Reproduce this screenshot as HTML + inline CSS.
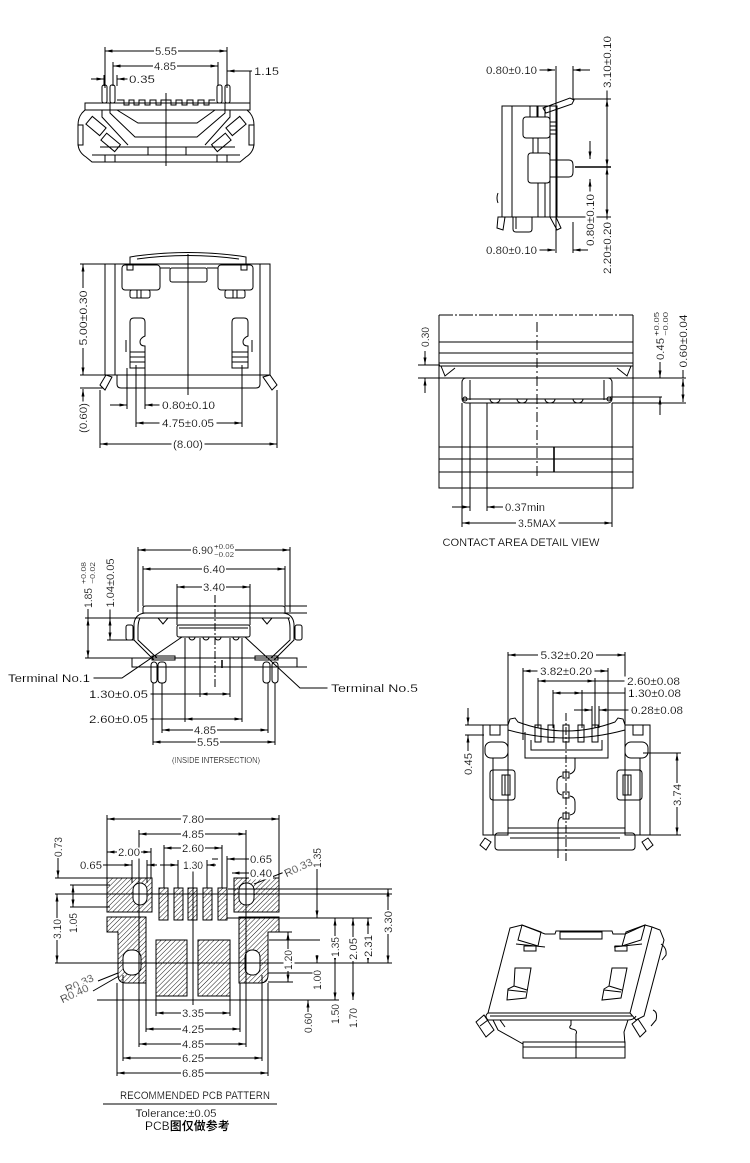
<!DOCTYPE html>
<html><head><meta charset="utf-8">
<style>
html,body{margin:0;padding:0;background:#fff;}
svg{display:block;}
svg text{font-family:"Liberation Sans","Noto Sans CJK SC",sans-serif;font-size:11px;fill:#000;stroke:none;filter:url(#bg);}
text.m{text-anchor:middle;}
text.e{text-anchor:end;}
text.s{font-size:7px;}
</style></head>
<body>
<svg width="750" height="1163" viewBox="0 0 750 1163" xmlns="http://www.w3.org/2000/svg">
<defs>
<filter id="bg" x="-0.04" y="0.05" width="1.08" height="0.9"><feFlood flood-color="#fff"/><feComposite in="SourceGraphic" operator="over"/></filter>
<marker id="a" viewBox="0 0 10 4" refX="10" refY="2" markerWidth="9" markerHeight="3" orient="auto-start-reverse" markerUnits="userSpaceOnUse"><path d="M0,0L10,2L0,4Z" fill="#000" stroke="none"/></marker>
<pattern id="h" width="3.4" height="3.4" patternUnits="userSpaceOnUse" patternTransform="rotate(45)"><line x1="0" y1="0" x2="0" y2="3.4" stroke="#000" stroke-width="0.9"/></pattern>
</defs>
<rect width="750" height="1163" fill="#fff"/>
<g stroke="#000" stroke-width="1" fill="none">

<!-- ============ VIEW 1 (front top-left) ============ -->
<line x1="105" y1="47" x2="105" y2="88"/>
<line x1="227" y1="47" x2="227" y2="88"/>
<line x1="105" y1="51" x2="227" y2="51" marker-start="url(#a)" marker-end="url(#a)"/>
<line x1="113" y1="62" x2="113" y2="86"/>
<line x1="218" y1="62" x2="218" y2="86"/>
<line x1="113" y1="66" x2="218" y2="66" marker-start="url(#a)" marker-end="url(#a)"/>
<line x1="104" y1="75" x2="104" y2="86"/>
<line x1="117" y1="75" x2="117" y2="86"/>
<line x1="91" y1="79" x2="104" y2="79" marker-end="url(#a)"/>
<line x1="117" y1="79" x2="128" y2="79" marker-start="url(#a)"/>
<line x1="227" y1="71" x2="252" y2="71" marker-start="url(#a)"/>
<line x1="250" y1="71" x2="250" y2="104"/>
<!-- body -->
<rect x="102" y="85" width="5" height="18" rx="2"/>
<rect x="110" y="85" width="5" height="18" rx="2"/>
<rect x="217" y="85" width="5" height="18" rx="2"/>
<rect x="225" y="85" width="5" height="18" rx="2"/>
<rect x="85" y="103" width="165" height="7"/>
<polyline points="117,100 124,100 124,105 129,105 129,100 134,100 134,105 139,105 139,100 145,100 145,105 150,105 150,100 156,100 156,105 161,105 161,100 171,100 171,105 176,105 176,100 182,100 182,105 187,105 187,100 193,100 193,105 198,105 198,100 204,100 204,105 209,105 209,100 215,100"/>
<polyline points="117,110 138,123 197,123 215,110"/>
<polyline points="110,103 110,113 135,137 197,137 225,113 225,103"/>
<polyline points="102,110 102,117 128,145"/>
<polyline points="230,110 230,117 205,145"/>
<path d="M85,110 L82,113 Q78,118 78,125 L78,143 Q78,152 86,157 L92,162 L240,162 L246,157 Q254,152 254,143 L254,125 Q254,118 250,113 L247,110"/>
<rect x="78" y="125" width="5" height="20"/>
<rect x="249" y="125" width="5" height="20"/>
<rect x="87" y="121" width="18" height="10" transform="rotate(40 96 126)"/>
<rect x="102" y="138" width="18" height="9" transform="rotate(40 111 142)"/>
<rect x="227" y="121" width="18" height="10" transform="rotate(-40 236 126)"/>
<rect x="212" y="138" width="18" height="9" transform="rotate(-40 221 142)"/>
<line x1="100" y1="147" x2="235" y2="147"/>
<line x1="92" y1="155" x2="240" y2="155"/>
<rect x="148" y="147" width="38" height="8"/>
<rect x="105" y="155" width="10" height="7"/>
<rect x="217" y="155" width="10" height="7"/>
<line x1="166" y1="93" x2="166" y2="166"/>

<!-- ============ VIEW 2 (side top-right) ============ -->
<line x1="538" y1="70" x2="555" y2="70" marker-end="url(#a)"/>
<line x1="556" y1="66" x2="556" y2="253"/>
<line x1="573" y1="70" x2="590" y2="70" marker-start="url(#a)"/>
<line x1="573" y1="66" x2="573" y2="99"/>
<line x1="573" y1="99" x2="611" y2="99"/>
<line x1="557" y1="217" x2="611" y2="217"/>
<line x1="575" y1="167" x2="611" y2="167" stroke-width="1.6"/>
<line x1="607" y1="88" x2="607" y2="99"/>
<line x1="607" y1="99" x2="607" y2="167" marker-start="url(#a)" marker-end="url(#a)"/>
<line x1="607" y1="167" x2="607" y2="217" marker-start="url(#a)" marker-end="url(#a)"/>
<line x1="607" y1="217" x2="607" y2="222"/>
<line x1="590" y1="141" x2="590" y2="159" marker-end="url(#a)"/>
<line x1="590" y1="193" x2="590" y2="179" marker-end="url(#a)"/>
<line x1="538" y1="250" x2="555" y2="250" marker-end="url(#a)"/>
<line x1="573" y1="250" x2="588" y2="250" marker-start="url(#a)"/>
<line x1="573" y1="222" x2="573" y2="253"/>
<!-- body -->
<rect x="502" y="106" width="55" height="111"/>
<line x1="512" y1="106" x2="512" y2="217"/>
<line x1="550" y1="106" x2="550" y2="217"/>
<polygon points="543,108 570,98 574,100 572,104 546,113"/>
<rect x="530" y="106" width="7" height="11"/>
<rect x="538" y="106" width="7" height="11"/>
<rect x="523" y="117" width="27" height="21" rx="3"/>
<line x1="550" y1="122" x2="557" y2="122"/><line x1="550" y1="126" x2="557" y2="126"/><line x1="550" y1="130" x2="557" y2="130"/><line x1="550" y1="134" x2="557" y2="134"/>
<line x1="533" y1="138" x2="533" y2="153"/><line x1="538" y1="138" x2="538" y2="153"/>
<rect x="528" y="153" width="22" height="30" rx="3"/>
<path d="M550,160 L569,160 Q573,160 573,165 L573,172 Q573,177 569,177 L550,177"/>
<line x1="557" y1="160" x2="557" y2="177"/>
<line x1="538" y1="183" x2="538" y2="217"/><line x1="545" y1="183" x2="545" y2="217"/>
<path d="M498,193 Q496,198 498,203"/>
<polygon points="498,217 505,217 503,230 497,228"/>
<path d="M513,217 L513,229 Q513,232 516,232 L529,232 Q532,232 532,229 L532,217"/>
<line x1="516" y1="217" x2="516" y2="229"/>
<polygon points="550,217 556,217 561,228 557,230"/>

<!-- ============ VIEW 3 (top view left) ============ -->
<rect x="105" y="264" width="165" height="111"/>
<line x1="115" y1="264" x2="115" y2="375"/>
<line x1="260" y1="264" x2="260" y2="375"/>
<path d="M130,264 L130,257 L136,256 Q188,249 240,256 L246,257 L246,264"/>
<path d="M137,259 Q188,252 239,259"/>
<rect x="170" y="268" width="37" height="14" rx="2"/>
<line x1="160" y1="268" x2="170" y2="268"/><line x1="207" y1="268" x2="218" y2="268"/>
<rect x="122" y="265" width="38" height="25" rx="3"/>
<rect x="127" y="265" width="6" height="5"/>
<rect x="130" y="290" width="20" height="8" rx="2"/>
<line x1="137" y1="290" x2="137" y2="298"/><line x1="141" y1="290" x2="141" y2="298"/>
<rect x="218" y="265" width="35" height="25" rx="3"/>
<rect x="241" y="265" width="6" height="5"/>
<rect x="225" y="290" width="20" height="8" rx="2"/>
<line x1="233" y1="290" x2="233" y2="298"/><line x1="237" y1="290" x2="237" y2="298"/>
<path d="M130,368 L130,322 Q130,318 134,318 L141,318 Q145,318 145,322 L145,336 Q140,338 140,342 Q140,346 145,346 L145,368 Z"/>
<line x1="126" y1="340" x2="126" y2="352"/>
<line x1="130" y1="352" x2="145" y2="352"/><line x1="130" y1="357" x2="145" y2="357"/><line x1="130" y1="362" x2="145" y2="362"/>
<path d="M232,368 L232,322 Q232,318 236,318 L244,318 Q248,318 248,322 L248,336 Q243,338 243,342 Q243,346 248,346 L248,368 Z"/>
<line x1="252" y1="340" x2="252" y2="352"/>
<line x1="232" y1="352" x2="248" y2="352"/><line x1="232" y1="357" x2="248" y2="357"/><line x1="232" y1="362" x2="248" y2="362"/>
<line x1="188" y1="254" x2="188" y2="395"/>
<path d="M117,375 L117,384 Q117,388 121,388 L256,388 Q260,388 260,384 L260,375"/>
<polygon points="100,385 106,375 112,377 105,390"/>
<polygon points="263,377 270,375 277,385 272,390"/>
<!-- dims -->
<line x1="80" y1="264" x2="105" y2="264"/>
<line x1="80" y1="375" x2="105" y2="375"/>
<line x1="83" y1="264" x2="83" y2="375" marker-start="url(#a)" marker-end="url(#a)"/>
<line x1="80" y1="388" x2="103" y2="388"/>
<line x1="83" y1="403" x2="83" y2="389" marker-end="url(#a)"/>
<line x1="127" y1="368" x2="127" y2="409"/>
<line x1="145" y1="368" x2="145" y2="409"/>
<line x1="110" y1="405" x2="127" y2="405" marker-end="url(#a)"/>
<line x1="145" y1="405" x2="161" y2="405" marker-start="url(#a)"/>
<line x1="136" y1="365" x2="136" y2="427"/>
<line x1="242" y1="365" x2="242" y2="427"/>
<line x1="136" y1="423" x2="242" y2="423" marker-start="url(#a)" marker-end="url(#a)"/>
<line x1="100" y1="390" x2="100" y2="448"/>
<line x1="277" y1="390" x2="277" y2="448"/>
<line x1="100" y1="444" x2="277" y2="444" marker-start="url(#a)" marker-end="url(#a)"/>

<!-- ============ VIEW 4 (contact area detail) ============ -->
<path d="M439,315 L439,488 L633,488 L633,315"/>
<line x1="439" y1="315" x2="633" y2="315" stroke-dasharray="14,2,2,2"/>
<line x1="439" y1="342" x2="633" y2="342"/>
<line x1="439" y1="353" x2="633" y2="353"/>
<line x1="439" y1="363" x2="633" y2="363"/>
<line x1="439" y1="366" x2="633" y2="366"/>
<line x1="439" y1="378" x2="633" y2="378"/>
<polyline points="441,366 445,376 455,368"/>
<polyline points="631,366 627,376 617,368"/>
<rect x="462" y="378" width="150" height="25" rx="4"/>
<line x1="470" y1="380" x2="470" y2="400"/>
<line x1="604" y1="380" x2="604" y2="400"/>
<line x1="462" y1="399" x2="612" y2="399"/>
<circle cx="465" cy="399" r="2"/>
<circle cx="609" cy="399" r="2"/>
<path d="M490,399 A5,4 0 0 0 500,399"/>
<path d="M517,399 A5,4 0 0 0 527,399"/>
<path d="M545,399 A5,4 0 0 0 555,399"/>
<path d="M573,399 A5,4 0 0 0 583,399"/>
<line x1="537" y1="322" x2="537" y2="476" stroke-dasharray="10,3,2,3"/>
<line x1="439" y1="447" x2="633" y2="447"/>
<line x1="439" y1="459" x2="633" y2="459"/>
<line x1="439" y1="472" x2="633" y2="472"/>
<line x1="554" y1="447" x2="554" y2="472" stroke-width="1.6"/>
<!-- dims -->
<line x1="418" y1="365" x2="440" y2="365"/>
<line x1="418" y1="378" x2="440" y2="378"/>
<line x1="425" y1="351" x2="425" y2="365" marker-end="url(#a)"/>
<line x1="425" y1="393" x2="425" y2="378" marker-end="url(#a)"/>
<line x1="607" y1="378" x2="686" y2="378"/>
<line x1="610" y1="397" x2="662" y2="397"/>
<line x1="612" y1="403" x2="686" y2="403"/>
<line x1="660" y1="362" x2="660" y2="378" marker-end="url(#a)"/>
<line x1="660" y1="415" x2="660" y2="397" marker-end="url(#a)"/>
<line x1="683" y1="369" x2="683" y2="378"/>
<line x1="683" y1="379" x2="683" y2="402" marker-start="url(#a)" marker-end="url(#a)"/>
<line x1="462" y1="403" x2="462" y2="527"/>
<line x1="470" y1="403" x2="470" y2="511"/>
<line x1="487" y1="403" x2="487" y2="511"/>
<line x1="612" y1="403" x2="612" y2="527"/>
<line x1="452" y1="507" x2="470" y2="507" marker-end="url(#a)"/>
<line x1="487" y1="507" x2="504" y2="507" marker-start="url(#a)"/>
<line x1="462" y1="523" x2="612" y2="523" marker-start="url(#a)" marker-end="url(#a)"/>

<!-- ============ VIEW 5 (front with terminals) ============ -->
<line x1="138" y1="547" x2="138" y2="612"/>
<line x1="290" y1="547" x2="290" y2="612"/>
<line x1="138" y1="550" x2="290" y2="550" marker-start="url(#a)" marker-end="url(#a)"/>
<line x1="143" y1="566" x2="143" y2="606"/>
<line x1="285" y1="566" x2="285" y2="606"/>
<line x1="143" y1="569" x2="285" y2="569" marker-start="url(#a)" marker-end="url(#a)"/>
<line x1="177" y1="584" x2="177" y2="625"/>
<line x1="250" y1="584" x2="250" y2="625"/>
<line x1="177" y1="587" x2="250" y2="587" marker-start="url(#a)" marker-end="url(#a)"/>
<!-- body -->
<path d="M143,613 L143,608 Q143,606 146,606 L282,606 Q285,606 285,608 L285,613"/>
<line x1="285" y1="606" x2="307" y2="606"/>
<line x1="143" y1="613" x2="307" y2="613"/>
<line x1="138" y1="618" x2="290" y2="618"/>
<path d="M158,618 L163,624 L168,618"/>
<path d="M262,618 L267,624 L272,618"/>
<path d="M145,613 Q135,614 134,624 L134,640 L154,660"/>
<path d="M140,618 Q138,622 138,628 L138,640 L157,658"/>
<path d="M283,613 Q293,614 294,624 L294,640 L274,660"/>
<path d="M288,618 Q290,622 290,628 L290,640 L271,658"/>
<rect x="126" y="625" width="7" height="15" rx="2"/>
<rect x="295" y="625" width="7" height="15" rx="2"/>
<rect x="177" y="625" width="73" height="12" rx="2"/>
<line x1="179" y1="628" x2="248" y2="628"/>
<path d="M189,637 A3,3 0 0 0 195,637"/>
<path d="M203,637 A3,3 0 0 0 209,637"/>
<path d="M215,637 A3,3 0 0 0 221,637"/>
<path d="M233,637 A3,3 0 0 0 239,637"/>
<rect x="132" y="658" width="165" height="9"/>
<line x1="297" y1="667" x2="307" y2="667"/>
<rect x="152" y="656" width="23" height="4"/>
<rect x="255" y="656" width="23" height="4"/>
<line x1="222" y1="660" x2="222" y2="668" stroke-width="1.5"/>
<rect x="151" y="662" width="6" height="21" rx="3"/>
<rect x="158" y="662" width="8" height="21" rx="3"/>
<rect x="263" y="662" width="7" height="21" rx="3"/>
<rect x="272" y="662" width="6" height="21" rx="3"/>
<line x1="215" y1="595" x2="215" y2="688" stroke-dasharray="8,2,2,2"/>
<!-- terminal leaders -->
<polyline points="90,678 122,678 182,637"/>
<polyline points="330,688 300,688 245,637"/>
<!-- left vertical dims -->
<line x1="85" y1="618" x2="140" y2="618"/>
<line x1="85" y1="658" x2="153" y2="658"/>
<line x1="88" y1="607" x2="88" y2="618"/>
<line x1="88" y1="618" x2="88" y2="658" marker-start="url(#a)" marker-end="url(#a)"/>
<line x1="107" y1="640" x2="134" y2="640"/>
<line x1="110" y1="608" x2="110" y2="618"/>
<line x1="110" y1="618" x2="110" y2="640" marker-start="url(#a)" marker-end="url(#a)"/>
<!-- bottom dims -->
<line x1="185" y1="638" x2="185" y2="722"/>
<line x1="200" y1="638" x2="200" y2="697"/>
<line x1="230" y1="638" x2="230" y2="697"/>
<line x1="242" y1="638" x2="242" y2="722"/>
<line x1="162" y1="683" x2="162" y2="733"/>
<line x1="268" y1="683" x2="268" y2="733"/>
<line x1="153" y1="683" x2="153" y2="745"/>
<line x1="275" y1="683" x2="275" y2="745"/>
<line x1="148" y1="694" x2="200" y2="694"/>
<line x1="200" y1="694" x2="230" y2="694" marker-start="url(#a)" marker-end="url(#a)"/>
<line x1="148" y1="719" x2="185" y2="719"/>
<line x1="185" y1="719" x2="242" y2="719" marker-start="url(#a)" marker-end="url(#a)"/>
<line x1="162" y1="730" x2="268" y2="730" marker-start="url(#a)" marker-end="url(#a)"/>
<line x1="153" y1="742" x2="275" y2="742" marker-start="url(#a)" marker-end="url(#a)"/>

<!-- ============ VIEW 6 (right middle) ============ -->
<line x1="508" y1="652" x2="508" y2="728"/>
<line x1="625" y1="652" x2="625" y2="728"/>
<line x1="508" y1="655" x2="625" y2="655" marker-start="url(#a)" marker-end="url(#a)"/>
<line x1="523" y1="668" x2="523" y2="740"/>
<line x1="608" y1="668" x2="608" y2="740"/>
<line x1="523" y1="671" x2="608" y2="671" marker-start="url(#a)" marker-end="url(#a)"/>
<line x1="538" y1="678" x2="538" y2="728"/>
<line x1="595" y1="678" x2="595" y2="728"/>
<line x1="538" y1="681" x2="595" y2="681" marker-start="url(#a)" marker-end="url(#a)"/>
<line x1="595" y1="681" x2="626" y2="681"/>
<line x1="553" y1="690" x2="553" y2="728"/>
<line x1="582" y1="690" x2="582" y2="728"/>
<line x1="553" y1="693" x2="582" y2="693" marker-start="url(#a)" marker-end="url(#a)"/>
<line x1="582" y1="693" x2="627" y2="693"/>
<line x1="592" y1="706" x2="592" y2="728"/>
<line x1="599" y1="706" x2="599" y2="728"/>
<line x1="574" y1="710" x2="592" y2="710" marker-end="url(#a)"/>
<line x1="630" y1="710" x2="599" y2="710" marker-end="url(#a)"/>
<!-- body -->
<rect x="483" y="725" width="25" height="110"/>
<rect x="625" y="725" width="25" height="110"/>
<rect x="490" y="725" width="10" height="10"/>
<rect x="633" y="725" width="10" height="10"/>
<path d="M508,725 L510,719 L515,718 L518,722 Q566,740 615,722 L618,718 L623,719 L625,725"/>
<path d="M508,730 Q566,746 625,730"/>
<rect x="535" y="725" width="6" height="17"/>
<rect x="548" y="725" width="6" height="17"/>
<rect x="563" y="725" width="6" height="17"/>
<rect x="578" y="725" width="6" height="17"/>
<rect x="592" y="725" width="6" height="17"/>
<path d="M525,732 L525,758 L608,758 L608,732"/>
<path d="M531,740 L531,750 L602,750 L602,740"/>
<rect x="485" y="742" width="23" height="16" rx="6"/>
<rect x="625" y="742" width="23" height="16" rx="6"/>
<line x1="493" y1="758" x2="493" y2="835"/>
<line x1="640" y1="758" x2="640" y2="835"/>
<rect x="490" y="770" width="25" height="30" rx="3"/>
<rect x="502" y="775" width="8" height="20"/>
<line x1="505" y1="775" x2="505" y2="795"/>
<rect x="617" y="770" width="25" height="30" rx="3"/>
<rect x="623" y="775" width="8" height="20"/>
<line x1="628" y1="775" x2="628" y2="795"/>
<line x1="508" y1="828" x2="625" y2="828"/>
<rect x="495" y="833" width="140" height="17" rx="3"/>
<line x1="510" y1="838" x2="620" y2="838"/>
<polygon points="480,845 485,838 491,842 486,850"/>
<polygon points="642,842 648,838 653,845 647,850"/>
<line x1="566" y1="713" x2="566" y2="862" stroke-dasharray="8,2,2,2"/>
<path d="M575,758 L575,768 Q575,772 570,774"/>
<path d="M562,776 Q557,777 557,782 L557,789 Q557,794 562,795"/>
<path d="M570,796 Q575,797 575,802 L575,810 Q575,814 570,815"/>
<path d="M562,817 Q558,818 558,824 L558,858"/>
<rect x="563" y="772" width="6" height="6"/>
<rect x="563" y="792" width="6" height="6"/>
<rect x="563" y="813" width="6" height="6"/>
<!-- side dims -->
<line x1="465" y1="725" x2="484" y2="725"/>
<line x1="465" y1="735" x2="484" y2="735"/>
<line x1="468" y1="708" x2="468" y2="725" marker-end="url(#a)"/>
<line x1="468" y1="751" x2="468" y2="735" marker-end="url(#a)"/>
<line x1="643" y1="753" x2="681" y2="753"/>
<line x1="650" y1="835" x2="681" y2="835"/>
<line x1="677" y1="753" x2="677" y2="835" marker-start="url(#a)" marker-end="url(#a)"/>

<!-- ============ VIEW 7 (PCB pattern) ============ -->
<g fill="url(#h)">
<rect x="107" y="878" width="45" height="34"/>
<rect x="234" y="878" width="45" height="34"/>
<rect x="159" y="888" width="9" height="32"/>
<rect x="174" y="888" width="9" height="32"/>
<rect x="188" y="888" width="9" height="32"/>
<rect x="203" y="888" width="9" height="32"/>
<rect x="218" y="888" width="9" height="32"/>
<path d="M107,917 L146,917 L146,983 L126,983 Q118,983 118,975 L118,932 L107,932 Z"/>
<path d="M239,917 L279,917 L279,932 L268,932 L268,975 Q268,983 260,983 L239,983 Z"/>
<rect x="156" y="940" width="31" height="56"/>
<rect x="198" y="940" width="32" height="56"/>
</g>
<g fill="#fff">
<rect x="133" y="883" width="14" height="22" rx="7"/>
<rect x="239" y="883" width="15" height="22" rx="7"/>
<rect x="123" y="950" width="18" height="25" rx="8"/>
<rect x="245" y="950" width="15" height="25" rx="7"/>
</g>
<line x1="193" y1="868" x2="193" y2="1005"/>
<line x1="55" y1="894" x2="392" y2="894"/>
<line x1="55" y1="963" x2="392" y2="963"/>
<line x1="55" y1="878" x2="110" y2="878"/>
<line x1="70" y1="885" x2="110" y2="885"/>
<line x1="70" y1="907" x2="110" y2="907"/>
<line x1="228" y1="889" x2="392" y2="889"/>
<line x1="227" y1="918" x2="372" y2="918"/>
<line x1="268" y1="932" x2="292" y2="932"/>
<line x1="269" y1="940" x2="320" y2="940"/>
<line x1="268" y1="973" x2="320" y2="973"/>
<line x1="268" y1="982" x2="293" y2="982"/>
<line x1="97" y1="1000" x2="339" y2="1000"/>
<line x1="107" y1="815" x2="107" y2="878"/>
<line x1="279" y1="815" x2="279" y2="878"/>
<line x1="107" y1="819" x2="279" y2="819" marker-start="url(#a)" marker-end="url(#a)"/>
<line x1="139" y1="830" x2="139" y2="1047"/>
<line x1="246" y1="830" x2="246" y2="1047"/>
<line x1="139" y1="834" x2="246" y2="834" marker-start="url(#a)" marker-end="url(#a)"/>
<line x1="164" y1="845" x2="164" y2="888"/>
<line x1="222" y1="845" x2="222" y2="888"/>
<line x1="164" y1="848" x2="222" y2="848" marker-start="url(#a)" marker-end="url(#a)"/>
<line x1="151" y1="848" x2="151" y2="878"/>
<line x1="107" y1="852" x2="151" y2="852" marker-start="url(#a)" marker-end="url(#a)"/>
<line x1="132" y1="860" x2="132" y2="883"/>
<line x1="147" y1="860" x2="147" y2="883"/>
<line x1="102" y1="865" x2="132" y2="865" marker-end="url(#a)"/>
<line x1="147" y1="865" x2="157" y2="865" marker-start="url(#a)"/>
<line x1="178" y1="860" x2="178" y2="888"/>
<line x1="207" y1="860" x2="207" y2="888"/>
<line x1="160" y1="865" x2="178" y2="865" marker-end="url(#a)"/>
<line x1="207" y1="865" x2="216" y2="865" marker-start="url(#a)"/>
<line x1="227" y1="856" x2="227" y2="888"/>
<line x1="212" y1="859" x2="218" y2="859"/>
<line x1="227" y1="859" x2="249" y2="859" marker-start="url(#a)"/>
<line x1="232" y1="873" x2="249" y2="873" marker-start="url(#a)"/>
<line x1="254" y1="884" x2="287" y2="871"/>
<line x1="58" y1="858" x2="58" y2="878" marker-end="url(#a)"/>
<line x1="57" y1="894" x2="57" y2="963" marker-start="url(#a)" marker-end="url(#a)"/>
<line x1="73" y1="885" x2="73" y2="907" marker-start="url(#a)" marker-end="url(#a)"/>
<line x1="317" y1="866" x2="317" y2="889"/>
<line x1="317" y1="889" x2="317" y2="918" marker-end="url(#a)"/>
<line x1="388" y1="889" x2="388" y2="963" marker-start="url(#a)" marker-end="url(#a)"/>
<line x1="368" y1="918" x2="368" y2="963" marker-start="url(#a)" marker-end="url(#a)"/>
<line x1="353" y1="918" x2="353" y2="1000" marker-start="url(#a)" marker-end="url(#a)"/>
<line x1="335" y1="918" x2="335" y2="963" marker-start="url(#a)" marker-end="url(#a)"/>
<line x1="335" y1="963" x2="335" y2="1000" marker-end="url(#a)"/>
<line x1="288" y1="932" x2="288" y2="982" marker-start="url(#a)" marker-end="url(#a)"/>
<line x1="317" y1="955" x2="317" y2="963" marker-end="url(#a)"/>
<line x1="308" y1="1013" x2="308" y2="1000" marker-end="url(#a)"/>
<line x1="98" y1="981" x2="118" y2="973"/>
<line x1="93" y1="991" x2="119" y2="976"/>
<line x1="117" y1="983" x2="117" y2="1076"/>
<line x1="268" y1="983" x2="268" y2="1076"/>
<line x1="123" y1="975" x2="123" y2="1061"/>
<line x1="262" y1="975" x2="262" y2="1061"/>
<line x1="146" y1="983" x2="146" y2="1032"/>
<line x1="240" y1="983" x2="240" y2="1032"/>
<line x1="156" y1="996" x2="156" y2="1016"/>
<line x1="230" y1="996" x2="230" y2="1016"/>
<line x1="156" y1="1013" x2="230" y2="1013" marker-start="url(#a)" marker-end="url(#a)"/>
<line x1="146" y1="1029" x2="240" y2="1029" marker-start="url(#a)" marker-end="url(#a)"/>
<line x1="139" y1="1044" x2="246" y2="1044" marker-start="url(#a)" marker-end="url(#a)"/>
<line x1="123" y1="1058" x2="262" y2="1058" marker-start="url(#a)" marker-end="url(#a)"/>
<line x1="117" y1="1073" x2="268" y2="1073" marker-start="url(#a)" marker-end="url(#a)"/>
<line x1="103" y1="1104" x2="277" y2="1104"/>

<!-- ============ VIEW 8 (isometric) ============ -->
<path d="M510,928 L522,925 L545,934 L555,934 L556,931 L612,931 L613,934 L625,934 L645,925 L652,927 L630,1013 L488,1013 Z"/>
<path d="M652,927 L660,930 L664,940 L644,1016 L636,1020 L630,1013"/>
<path d="M488,1013 Q484,1016 488,1020 L628,1020 Q634,1020 636,1016"/>
<line x1="490" y1="1016" x2="632" y2="1016"/>
<rect x="560" y="932" width="42" height="7"/>
<polygon points="522,925 541,932 538,946 518,940"/>
<polygon points="645,925 626,932 622,946 641,940"/>
<line x1="516" y1="944" x2="545" y2="947"/>
<line x1="614" y1="947" x2="642" y2="944"/>
<rect x="524" y="946" width="12" height="5"/>
<rect x="615" y="946" width="12" height="5"/>
<polygon points="515,968 531,968 526,998 507,1000 508,989 514,986"/>
<line x1="514" y1="986" x2="527" y2="990"/>
<line x1="508" y1="990" x2="526" y2="992"/>
<polygon points="612,968 627,968 621,998 602,1000 604,989 609,986"/>
<line x1="609" y1="986" x2="622" y2="990"/>
<line x1="604" y1="990" x2="621" y2="992"/>
<polyline points="493,1020 498,1030 523,1044"/>
<polyline points="500,1020 505,1027"/>
<polyline points="628,1020 624,1032 625,1044"/>
<rect x="523" y="1042" width="102" height="16"/>
<line x1="523" y1="1047" x2="625" y2="1047"/>
<path d="M571,1020 L571,1025 Q568,1028 572,1029 Q578,1030 576,1034 L576,1058"/>
<polygon points="476,1022 484,1015 494,1030 486,1037"/>
<line x1="480" y1="1026" x2="488" y2="1020"/>
<polygon points="632,1024 638,1019 646,1031 640,1037"/>
<path d="M661,944 Q667,948 666,955 L662,960"/>
<path d="M653,1010 Q658,1012 656,1020 L651,1026"/>
</g>

<!-- ================= TEXT ================= -->
<text x="166" y="55" class="m" textLength="22" lengthAdjust="spacingAndGlyphs">5.55</text>
<text x="165" y="70" class="m" textLength="22" lengthAdjust="spacingAndGlyphs">4.85</text>
<text x="129" y="83" textLength="26" lengthAdjust="spacingAndGlyphs">0.35</text>
<text x="254" y="75" textLength="25" lengthAdjust="spacingAndGlyphs">1.15</text>
<text x="486" y="74" textLength="51" lengthAdjust="spacingAndGlyphs">0.80±0.10</text>
<text x="486" y="254" textLength="51" lengthAdjust="spacingAndGlyphs">0.80±0.10</text>
<text transform="translate(611,62) rotate(-90)" class="m" textLength="52" lengthAdjust="spacingAndGlyphs">3.10±0.10</text>
<text transform="translate(611,248) rotate(-90)" class="m" textLength="52" lengthAdjust="spacingAndGlyphs">2.20±0.20</text>
<text transform="translate(594,220) rotate(-90)" class="m" textLength="52" lengthAdjust="spacingAndGlyphs">0.80±0.10</text>
<text transform="translate(87,318) rotate(-90)" class="m" textLength="55" lengthAdjust="spacingAndGlyphs">5.00±0.30</text>
<text transform="translate(87,418) rotate(-90)" class="m" textLength="30" lengthAdjust="spacingAndGlyphs">(0.60)</text>
<text x="162" y="409" textLength="53" lengthAdjust="spacingAndGlyphs">0.80±0.10</text>
<text x="188" y="427" class="m" textLength="52" lengthAdjust="spacingAndGlyphs">4.75±0.05</text>
<text x="188" y="448" class="m" textLength="30" lengthAdjust="spacingAndGlyphs">(8.00)</text>
<text transform="translate(429,337) rotate(-90)" class="m" textLength="20" lengthAdjust="spacingAndGlyphs">0.30</text>
<text transform="translate(664,349) rotate(-90)" class="m" textLength="22" lengthAdjust="spacingAndGlyphs">0.45</text>
<text transform="translate(659,324) rotate(-90)" class="m s" textLength="24" lengthAdjust="spacingAndGlyphs">+0.05</text>
<text transform="translate(668,324) rotate(-90)" class="m s" textLength="24" lengthAdjust="spacingAndGlyphs">−0.00</text>
<text transform="translate(687,341) rotate(-90)" class="m" textLength="53" lengthAdjust="spacingAndGlyphs">0.60±0.04</text>
<text x="505" y="511" textLength="40" lengthAdjust="spacingAndGlyphs">0.37min</text>
<text x="537" y="527" class="m" textLength="38" lengthAdjust="spacingAndGlyphs">3.5MAX</text>
<text x="521" y="546" class="m" textLength="157" lengthAdjust="spacingAndGlyphs">CONTACT AREA DETAIL VIEW</text>
<text x="192" y="554" textLength="21" lengthAdjust="spacingAndGlyphs">6.90</text>
<text x="214" y="549" class="s" textLength="20" lengthAdjust="spacingAndGlyphs">+0.06</text>
<text x="214" y="557" class="s" textLength="20" lengthAdjust="spacingAndGlyphs">−0.02</text>
<text x="214" y="573" class="m" textLength="22" lengthAdjust="spacingAndGlyphs">6.40</text>
<text x="214" y="591" class="m" textLength="22" lengthAdjust="spacingAndGlyphs">3.40</text>
<text x="8" y="682" textLength="82" lengthAdjust="spacingAndGlyphs">Terminal No.1</text>
<text x="331" y="692" textLength="87" lengthAdjust="spacingAndGlyphs">Terminal No.5</text>
<text transform="translate(92,598) rotate(-90)" class="m" textLength="20" lengthAdjust="spacingAndGlyphs">1.85</text>
<text transform="translate(86,573) rotate(-90)" class="m s" textLength="22" lengthAdjust="spacingAndGlyphs">+0.08</text>
<text transform="translate(95,573) rotate(-90)" class="m s" textLength="22" lengthAdjust="spacingAndGlyphs">−0.02</text>
<text transform="translate(114,583) rotate(-90)" class="m" textLength="49" lengthAdjust="spacingAndGlyphs">1.04±0.05</text>
<text x="148" y="698" class="e" textLength="59" lengthAdjust="spacingAndGlyphs">1.30±0.05</text>
<text x="148" y="723" class="e" textLength="59" lengthAdjust="spacingAndGlyphs">2.60±0.05</text>
<text x="205" y="734" class="m" textLength="22" lengthAdjust="spacingAndGlyphs">4.85</text>
<text x="208" y="746" class="m" textLength="22" lengthAdjust="spacingAndGlyphs">5.55</text>
<text x="216" y="763" class="m" style="font-size:8px" textLength="88" lengthAdjust="spacingAndGlyphs">(INSIDE INTERSECTION)</text>
<text x="567" y="659" class="m" textLength="53" lengthAdjust="spacingAndGlyphs">5.32±0.20</text>
<text x="566" y="675" class="m" textLength="52" lengthAdjust="spacingAndGlyphs">3.82±0.20</text>
<text x="627" y="685" textLength="53" lengthAdjust="spacingAndGlyphs">2.60±0.08</text>
<text x="628" y="697" textLength="53" lengthAdjust="spacingAndGlyphs">1.30±0.08</text>
<text x="631" y="714" textLength="52" lengthAdjust="spacingAndGlyphs">0.28±0.08</text>
<text transform="translate(472,764) rotate(-90)" class="m" textLength="22" lengthAdjust="spacingAndGlyphs">0.45</text>
<text transform="translate(681,795) rotate(-90)" class="m" textLength="22" lengthAdjust="spacingAndGlyphs">3.74</text>
<text x="193" y="823" class="m" textLength="22" lengthAdjust="spacingAndGlyphs">7.80</text>
<text x="193" y="838" class="m" textLength="22" lengthAdjust="spacingAndGlyphs">4.85</text>
<text x="193" y="852" class="m" textLength="22" lengthAdjust="spacingAndGlyphs">2.60</text>
<text x="129" y="856" class="m" textLength="22" lengthAdjust="spacingAndGlyphs">2.00</text>
<text x="102" y="869" class="e" textLength="22" lengthAdjust="spacingAndGlyphs">0.65</text>
<text x="193" y="869" class="m" textLength="20" lengthAdjust="spacingAndGlyphs">1.30</text>
<text x="250" y="863" textLength="22" lengthAdjust="spacingAndGlyphs">0.65</text>
<text x="250" y="877" textLength="22" lengthAdjust="spacingAndGlyphs">0.40</text>
<text transform="translate(300,871) rotate(-25)" class="m" textLength="30" lengthAdjust="spacingAndGlyphs">R0.33</text>
<text transform="translate(321,858) rotate(-90)" class="m" textLength="20" lengthAdjust="spacingAndGlyphs">1.35</text>
<text transform="translate(62,847) rotate(-90)" class="m" textLength="20" lengthAdjust="spacingAndGlyphs">0.73</text>
<text transform="translate(61,929) rotate(-90)" class="m" textLength="20" lengthAdjust="spacingAndGlyphs">3.10</text>
<text transform="translate(77,923) rotate(-90)" class="m" textLength="20" lengthAdjust="spacingAndGlyphs">1.05</text>
<text transform="translate(392,922) rotate(-90)" class="m" textLength="22" lengthAdjust="spacingAndGlyphs">3.30</text>
<text transform="translate(372,946) rotate(-90)" class="m" textLength="22" lengthAdjust="spacingAndGlyphs">2.31</text>
<text transform="translate(357,949) rotate(-90)" class="m" textLength="22" lengthAdjust="spacingAndGlyphs">2.05</text>
<text transform="translate(339,947) rotate(-90)" class="m" textLength="20" lengthAdjust="spacingAndGlyphs">1.35</text>
<text transform="translate(292,960) rotate(-90)" class="m" textLength="20" lengthAdjust="spacingAndGlyphs">1.20</text>
<text transform="translate(321,980) rotate(-90)" class="m" textLength="20" lengthAdjust="spacingAndGlyphs">1.00</text>
<text transform="translate(312,1023) rotate(-90)" class="m" textLength="20" lengthAdjust="spacingAndGlyphs">0.60</text>
<text transform="translate(339,1014) rotate(-90)" class="m" textLength="20" lengthAdjust="spacingAndGlyphs">1.50</text>
<text transform="translate(357,1018) rotate(-90)" class="m" textLength="20" lengthAdjust="spacingAndGlyphs">1.70</text>
<text transform="translate(81,987) rotate(-25)" class="m" textLength="30" lengthAdjust="spacingAndGlyphs">R0.33</text>
<text transform="translate(76,997) rotate(-25)" class="m" textLength="30" lengthAdjust="spacingAndGlyphs">R0.40</text>
<text x="193" y="1017" class="m" textLength="22" lengthAdjust="spacingAndGlyphs">3.35</text>
<text x="193" y="1033" class="m" textLength="22" lengthAdjust="spacingAndGlyphs">4.25</text>
<text x="193" y="1048" class="m" textLength="22" lengthAdjust="spacingAndGlyphs">4.85</text>
<text x="193" y="1062" class="m" textLength="22" lengthAdjust="spacingAndGlyphs">6.25</text>
<text x="193" y="1077" class="m" textLength="22" lengthAdjust="spacingAndGlyphs">6.85</text>
<text x="195" y="1099" class="m" textLength="150" lengthAdjust="spacingAndGlyphs">RECOMMENDED PCB PATTERN</text>
<text x="176" y="1117" class="m" textLength="81" lengthAdjust="spacingAndGlyphs">Tolerance:±0.05</text>
<text x="145" y="1130" style="font-size:12px">PCB<tspan style="font-weight:bold;font-family:'Noto Sans CJK SC',sans-serif;">图仅做参考</tspan></text>
</svg>
</body></html>
